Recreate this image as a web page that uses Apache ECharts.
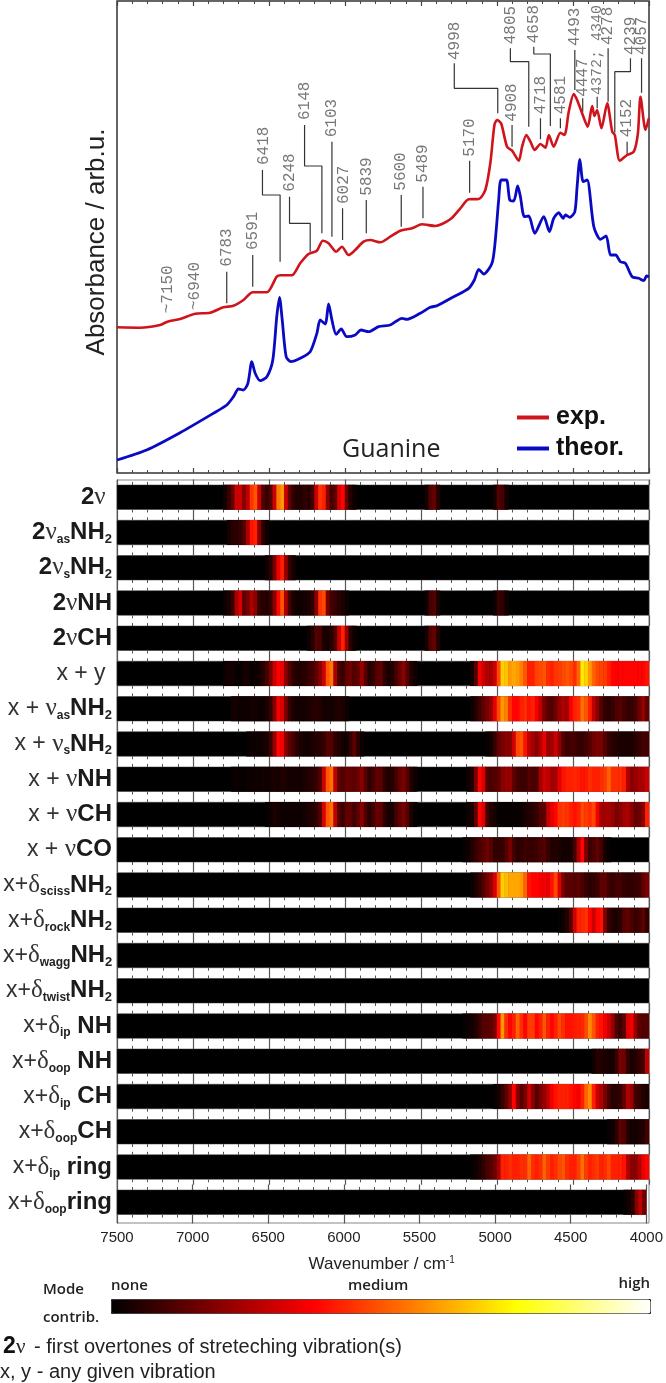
<!DOCTYPE html>
<html><head><meta charset="utf-8">
<style>html,body{margin:0;padding:0;background:#fff}#c{width:666px;height:1383px;filter:blur(0.6px)}</style>
<script src="https://cdn.jsdelivr.net/npm/echarts@6/dist/echarts.min.js"></script>
</head><body><div id="c"></div>
<script>
// ---------- spectra: [wavenumber, absorbance (arb.u.)] ----------
const expSpectrum=[[7500,145.7],[7348,145.3],[7217,148],[7168,151.3],[7085,154],[6986,159.3],[6887,160.3],[6800,165.7],[6734,167.3],[6668,173],[6607,180.7],[6514,180.7],[6449,196.3],[6422,197.7],[6350,197.7],[6295,209.7],[6240,219],[6185,222.3],[6146,232.3],[6108,229.7],[6058,221.3],[6020,226.3],[5976,218],[5933,223],[5878,231.3],[5834,233],[5768,230.7],[5702,236.3],[5636,242.3],[5559,244.7],[5494,248.7],[5406,247],[5307,253.7],[5241,264.7],[5186,273.7],[5120,274],[5077,283],[5044,309.7],[5017,348],[5000,353],[4973,349.7],[4934,326.3],[4901,322.3],[4857,312.3],[4835,326.3],[4807,338],[4780,331.3],[4752,323],[4714,329],[4681,325.3],[4659,338],[4627,326.3],[4583,340.3],[4556,338],[4528,361.3],[4495,379],[4473,373],[4440,359.7],[4403,346.3],[4374,367],[4359,357],[4341,363],[4313,344.7],[4275,369.7],[4242,341.3],[4225,338],[4192,312.3],[4144,318],[4100,321.3],[4073,339.7],[4056,376.3],[4023,343],[4001,354.7]];
const theorSpectrum=[[7500,13],[7305,23],[7085,40.3],[6866,59.7],[6778,68],[6734,76.3],[6701,84],[6668,83],[6639,89.7],[6613,111.3],[6591,99.7],[6558,92.3],[6514,96.3],[6475,113],[6449,156.3],[6431,175.7],[6413,153],[6387,116.3],[6356,111.3],[6295,114.7],[6229,121.3],[6185,139.7],[6163,153],[6130,149],[6108,169],[6086,153],[6058,138.7],[6025,144],[5988,136.3],[5933,138],[5895,143],[5845,141.3],[5779,146.3],[5702,148],[5625,154.7],[5592,153.7],[5505,159.7],[5439,165.7],[5395,167.3],[5285,176.3],[5186,184.7],[5149,193],[5120,203.7],[5088,199],[5033,209.7],[5011,233],[4989,273],[4973,293],[4938,293],[4916,273],[4890,272],[4864,287],[4846,276.3],[4820,256.3],[4791,257],[4752,239.7],[4692,256.3],[4655,241.3],[4627,254.7],[4594,260.3],[4565,254.7],[4550,258],[4521,255.7],[4488,261.3],[4473,286.3],[4455,313.7],[4433,291.3],[4407,293],[4363,246.3],[4319,233.7],[4282,237],[4253,218],[4220,218],[4188,211.3],[4155,209.7],[4111,196.3],[4067,194.7],[4034,192.3],[4016,197],[4000,196.3]];
// ---------- peak annotations ----------
const peakNames=['~7150','~6940','6783','6591','6418','6248','6148','6103','6027','5839','5600','5489','5170','4998','4908','4805','4718','4658','4581','4493','4447','4372; 4340','4278','4239','4152','4057'];
const peakLabelX=[7168,6986,6778,6607,6536,6361,6262,6086,6009,5860,5630,5487,5180,5281,4901,4908,4714,4758,4583,4488,4436,4341,4269,4122,4144,4049];
const peakLabelY=[159.7,163,206.3,223,308,281.3,353,335.7,269,277.3,282.3,290.3,316.3,413,351.3,428.7,358.7,429.7,358.7,427,376.3,378,428,418,335.7,418];
const peakLeaders=[
[[6778,169.7],[6778,201.3]],[[6607,186.3],[6607,218]],
[[6427,211.3],[6427,278],[6543,278],[6543,303]],
[[6229,221.3],[6229,249.7],[6365,249.7],[6365,276.3]],
[[6152,239.7],[6152,307],[6266,307],[6266,348]],
[[6086,236.3],[6086,331.3]],[[6016,233],[6016,264.7]],[[5860,239.7],[5860,273]],
[[5630,246.3],[5630,278]],[[5487,254.7],[5487,286.3]],[[5180,280.3],[5180,312.3]],
[[4995,359.7],[4995,384.7],[5281,384.7],[5281,409.7]],
[[4901,326.3],[4901,348]],
[[4791,346.3],[4791,411.3],[4912,411.3],[4912,424.7]],
[[4714,333.7],[4714,354.7]],
[[4649,347],[4649,419],[4758,419],[4758,426.3]],
[[4583,344.7],[4583,354.7]],[[4488,383],[4488,423]],[[4436,361.3],[4436,374.7]],[[4341,364.7],[4341,376.3]],[[4269,371.3],[4269,424.7]],
[[4225,340.3],[4225,401.3],[4122,401.3],[4122,414.7]],
[[4144,319],[4144,331.3]],[[4049,380.3],[4049,414.7]]];
// ---------- wavenumber bins (upper edge of each 25 cm-1 cell) ----------
const bins=[];for(let w=7500;w>4000;w-=25)bins.push(w);
// ---------- mode contributions, 0-100. Each segment: [first bin, value, next bin's value, ...]; unlisted bins are 0 ----------
const m2v=[[6800,3,8,15,30,30,20,28,45,50,30,12,8,12,30,55,60,30,14,7,5,5,7,5,10,30,45,42,20,10,14,32,38,15,5,2],[5475,3,12,15,5],[5025,3,12,10,3]];
const m2vasNH2=[[6775,3,6,6,8,12,25,40,42,20,7,2]];
const m2vsNH2=[[6525,2,6,18,35,42,22,8,3]];
const m2vNH=[[6800,2,4,8,25,32,14,18,25,20,8,6,5,8,20,38,50,25,10,4,2,2,3,4,7,20,45,48,18,10,8,6,4,2],[5475,2,10,12,4],[5025,2,8,7,2]];
const m2vCH=[[6250,2,5,12,11,4,3,6,12,30,42,22,6,2],[5475,3,12,15,5]];
const mxy=[[6800,2,3,3,1,1,3,3,1,2,3,6,10,18,30,37,35,20,12,7,5,5,6,8,10,14,20,30,50,55,25,10,8,14,16,12,15,22,12,5,8,13,14,7,3,5,10,15,20,12,5,2],[5175,3,12,36,30,26,24,30,48,68,66,60,62,60,56,50,42,42,47,48,50,44,42,45,46,48,50,48,44,52,72,68,60,52,48,47,46,42,38,37,38,38,38,38,38,38,38,40]];
const mxvasNH2=[[6750,3,3,2,2,2,3,3,2,2,4,8,20,36,32,18,8,4,3,3,3,4,5,6,5,3,3,3,4,5,4,2],[5175,2,5,10,14,18,22,34,48,60,56,44,38,38,42,44,40,42,36,28,18,13,12,16,22,26,24,36,42,44,54,50,42,28,20,12,7,6,8,11,13,10,8,8,10,16,22,14]];
const mxvsNH2=[[6650,1,2,2,2,3,4,9,22,38,36,20,14,10,6,4,3,3,4,5,6,8,12,12,7,5,3,2,8,14,6,2],[5075,1,3,8,15,17,20,20,30,48,50,40,28,24,20,26,35,22,24,30,22,12,9,10,10,8,8,10,12,16,18,18,12,8,6,5,4,4,4,4,6,8,10,10]];
const mxvNH=[[6750,1,2,1,1,2,2,2,2,3,2,3,4,3,5,4,3,3,3,3,4,5,6,8,12,30,50,54,28,14,12,15,15,14,16,20,12,7,10,14,13,7,4,6,10,15,18,12,5,2],[5200,2,5,18,38,32,12,11,12,14,20,22,22,14,10,9,9,12,11,11,24,30,28,24,24,34,40,42,42,43,42,40,41,44,42,42,44,46,52,44,44,44,42,26,20,22,25,25,30]];
const mxvCH=[[6525,1,2,4,3,2,2,2,2,2,2,3,4,5,7,12,32,50,54,28,12,9,14,14,10,14,20,11,6,10,15,14,7,3,4,10,14,18,12,4,1],[5200,2,4,14,38,32,10,5,3,1,1,1,1,1,1,2,4,5,6,8,12,14,28,34,38,45,46,45,42,40,42,48,46,44,48,36,24,24,24,22,18,20,24,25,20,15,16,20,42]];
const mxvCO=[[5225,1,2,5,8,11,13,16,13,7,7,8,12,18,10,6,7,9,8,8,9,11,12,8,5,5,4,3,3,3,10,25,38,18,9,11,14,10,3,1]];
const mxsciss=[[5175,2,4,8,12,17,22,32,50,68,65,62,62,62,60,52,40,38,38,36,36,34,40,48,32,18,14,13,12,14,11,8,6,7,9,14,14,9,8,10,10,8,7,7,8,9,14,18]];
const mxrock=[[4600,1,2,5,12,30,42,43,45,38,30,38,40,18,8,5,4,6,12,14,11,8,10,14,7]];
const mxwagg=[];
const mxtwist=[];
const mxipNH=[[5225,1,2,3,5,9,12,13,14,18,38,60,44,38,42,52,44,38,46,46,38,42,50,42,38,42,48,44,40,40,41,42,43,48,58,50,42,40,36,30,22,12,8,14,32,36,22,14,12,12]];
const mxoopNH=[[4375,2,6,5,4,3,3,8,18,16,7,4,5,8,10,28]];
const mxipCH=[[5025,1,3,8,14,22,38,20,12,18,30,20,12,18,22,28,36,40,42,42,42,40,38,36,42,52,58,42,30,25,18,10,6,6,8,15,26,22,10,8,5,4]];
const mxoopCH=[[4275,1,2,6,14,12,5,3,3,4,5,10]];
const mxipring=[[5175,1,2,4,7,11,13,16,24,42,42,44,42,42,44,44,52,44,42,44,52,46,42,44,48,50,44,42,42,46,54,46,42,44,46,42,44,48,42,42,42,40,26,20,20,26,34,38]];
const mxoopring=[[4150,1,3,6,20,28,16]];
const modeRows=[m2v,m2vasNH2,m2vsNH2,m2vNH,m2vCH,mxy,mxvasNH2,mxvsNH2,mxvNH,mxvCH,mxvCO,mxsciss,mxrock,mxwagg,mxtwist,mxipNH,mxoopNH,mxipCH,mxoopCH,mxipring,mxoopring];
const rowLabels=[
'{b|2}{g|ν}{t| }','{b|2}{g|ν}{s|as}{b|NH}{n|2}','{b|2}{g|ν}{s|s}{b|NH}{n|2}','{b|2}{g|ν}{b|NH}','{b|2}{g|ν}{b|CH}',
'{t|x + y }','{t|x + }{g|ν}{s|as}{b|NH}{n|2}','{t|x + }{g|ν}{s|s}{b|NH}{n|2}','{t|x + }{g|ν}{b|NH}','{t|x + }{g|ν}{b|CH}','{t|x + }{g|ν}{b|CO}',
'{t|x+}{g|δ}{s|sciss}{b|NH}{n|2}','{t|x+}{g|δ}{s|rock}{b|NH}{n|2}','{t|x+}{g|δ}{s|wagg}{b|NH}{n|2}','{t|x+}{g|δ}{s|twist}{b|NH}{n|2}',
'{t|x+}{g|δ}{s|ip}{b| NH}','{t|x+}{g|δ}{s|oop}{b| NH}','{t|x+}{g|δ}{s|ip}{b| CH}','{t|x+}{g|δ}{s|oop}{b|CH}','{t|x+}{g|δ}{s|ip}{b| ring}','{t|x+}{g|δ}{s|oop}{b|ring}'];
const heatColors=['#000000','#550000','#aa0000','#ff0000','#ff5500','#ffaa00','#ffff00','#ffff80','#ffffff'];

// ---------- layout ----------
const L=117,W=532,rowTop=485,rowH=24.5,rowStep=35.25,tickCol='#555';
const SANS='"Liberation Sans",Arial,sans-serif';
const grid=[],xAxis=[],yAxis=[],series=[],heatIdx=[];
function valueX(gridIndex,position,o){
  return Object.assign({type:'value',gridIndex,position,inverse:true,min:4000,max:7500,interval:500,
    axisLine:{show:false},splitLine:{show:false},
    axisTick:{show:true,inside:false,length:5.5,lineStyle:{color:tickCol,width:1.2}},
    minorTick:{show:true,splitNumber:5,length:3,lineStyle:{color:tickCol,width:1}},
    axisLabel:{show:false}},o||{});
}
// top spectra panel
grid.push({left:L,top:1,width:W,height:472,show:true,borderColor:'#333',borderWidth:1.5,backgroundColor:'#fff'});
const inT={inside:true,length:5,lineStyle:{color:'#444',width:1.2}},inM={show:true,splitNumber:5,length:3,lineStyle:{color:'#444',width:1}};
xAxis.push(valueX(0,'bottom',{axisTick:inT,minorTick:inM}));
xAxis.push(valueX(0,'top',{axisTick:inT,minorTick:inM}));
yAxis.push({type:'value',gridIndex:0,min:0,max:472,axisLine:{show:false},axisTick:{show:false},axisLabel:{show:false},splitLine:{show:false},
  name:'Absorbance / arb.u.',nameLocation:'middle',nameGap:7,nameTextStyle:{fontFamily:SANS,fontSize:26,color:'#222',padding:[0,10,0,0]}});
// frame behind the stacked rows
grid.push({left:L,top:480,width:W,height:743,show:true,borderColor:'#888',borderWidth:1,backgroundColor:'#fff'});
xAxis.push({type:'value',gridIndex:1,show:false,min:0,max:1});
yAxis.push({type:'value',gridIndex:1,show:false,min:0,max:1});

series.push({name:'exp.',type:'line',xAxisIndex:0,yAxisIndex:0,data:expSpectrum,smooth:0.25,symbol:'none',z:5,color:'#d0141c',lineStyle:{width:2.6}});
series.push({name:'theor.',type:'line',xAxisIndex:0,yAxisIndex:0,data:theorSpectrum,smooth:0.25,symbol:'none',z:5,color:'#0a0ac4',lineStyle:{width:2.8}});
const leaderData=[];peakLeaders.forEach(p=>{p.forEach(q=>leaderData.push(q));leaderData.push(['-','-']);});
series.push({name:'leaders',type:'line',xAxisIndex:0,yAxisIndex:0,data:leaderData,symbol:'none',connectNulls:false,silent:true,z:3,color:'#333',lineStyle:{width:1.2}});
series.push({name:'peaks',type:'scatter',xAxisIndex:0,yAxisIndex:0,symbolSize:0,silent:true,z:6,
  data:peakNames.map((n,i)=>({value:[peakLabelX[i],peakLabelY[i],n],label:n.length>6?{fontSize:15}:undefined})),
  label:{show:true,position:'top',distance:0,rotate:90,align:'left',verticalAlign:'middle',formatter:p=>p.value[2],
    fontFamily:'"Liberation Mono",monospace',fontSize:16,color:'#555'}});

const richStyles={
  b:{fontFamily:SANS,fontWeight:'bold',fontSize:24,color:'#1a1a1a',lineHeight:26},
  t:{fontFamily:SANS,fontSize:23,color:'#333',lineHeight:26},
  g:{fontFamily:'"Liberation Serif",serif',fontSize:25,color:'#333',lineHeight:26},
  s:{fontFamily:SANS,fontWeight:'bold',fontSize:12,color:'#222',lineHeight:12,verticalAlign:'bottom'},
  n:{fontFamily:SANS,fontWeight:'bold',fontSize:13,color:'#222',lineHeight:12,verticalAlign:'bottom'}
};
modeRows.forEach((segs,i)=>{
  const g=grid.length,last=i===modeRows.length-1;
  grid.push({left:L,top:rowTop+i*rowStep,width:W,height:rowH,show:true,backgroundColor:'#000',borderColor:'#333',borderWidth:0.5});
  const cx=xAxis.length;
  xAxis.push({type:'category',gridIndex:g,data:bins,show:false,boundaryGap:true});
  xAxis.push(valueX(g,'top'));
  xAxis.push(valueX(g,'bottom',last?{
    axisTick:{show:true,length:9,lineStyle:{color:tickCol,width:1.2}},
    axisLabel:{show:true,margin:16,fontFamily:SANS,fontSize:15,color:'#222',hideOverlap:false,showMinLabel:true,showMaxLabel:true,formatter:v=>String(v)},
    name:'Wavenumber / cm{u|-1}',nameLocation:'middle',nameGap:41,
    nameTextStyle:{fontFamily:SANS,fontSize:17,color:'#222',rich:{u:{fontSize:10,verticalAlign:'top',lineHeight:14,color:'#222',fontFamily:SANS}}}}:{}));
  const cy=yAxis.length;
  yAxis.push({type:'category',gridIndex:g,data:[rowLabels[i]],axisLine:{show:false},axisTick:{show:false},splitLine:{show:false},
    axisLabel:{show:true,margin:5,interval:0,rich:richStyles,formatter:v=>v}});
  const data=[];
  segs.forEach(s=>{const start=bins.indexOf(s[0]);s.slice(1).forEach((v,k)=>data.push([start+k,0,v]));});
  heatIdx.push(series.length);
  series.push({type:'heatmap',xAxisIndex:cx,yAxisIndex:cy,data,silent:true,progressive:0,z:2});
});
const T=(text,x,y,font,o)=>({type:'text',x,y,silent:true,style:Object.assign({text,font,fill:'#222',verticalAlign:'middle',align:'left'},o||{})});
const LAB='600 15px "Open Sans",sans-serif';
const option={
  animation:false,backgroundColor:'#fff',grid,xAxis,yAxis,series,
  legend:{data:['exp.','theor.'],orient:'vertical',left:517,top:405,itemWidth:32,itemHeight:4,itemGap:6,icon:'rect',selectedMode:false,
    padding:0,textStyle:{fontFamily:SANS,fontWeight:'bold',fontSize:25,color:'#111',padding:[0,0,0,2]}},
  visualMap:{type:'continuous',min:0,max:100,seriesIndex:heatIdx,dimension:2,orient:'horizontal',left:111,top:1299,itemWidth:14,itemHeight:539,
    calculable:false,hoverLink:false,realtime:false,text:null,showLabel:false,padding:0,borderColor:'#222',borderWidth:1,inRange:{color:heatColors}},
  graphic:[
    T('Guanine',342,450,'25px "Open Sans",sans-serif'),
    T('none',111,1286,LAB),T('medium',348,1286,LAB),T('high',650,1284,LAB,{align:'right'}),
    T('Mode',43,1290,LAB),T('contrib.',43,1318,LAB),
    T('2',3,1347,'bold 23px '+SANS,{fill:'#111'}),T('ν',16,1347,'21px "Liberation Serif",serif'),
    T('- first overtones of streteching vibration(s)',34,1347,'20px '+SANS),
    T('x, y - any given vibration',0,1372,'20px '+SANS)
  ]
};
const chart=echarts.init(document.getElementById('c'),null,{renderer:'canvas',width:666,height:1383});
chart.setOption(option);
</script></body></html>
